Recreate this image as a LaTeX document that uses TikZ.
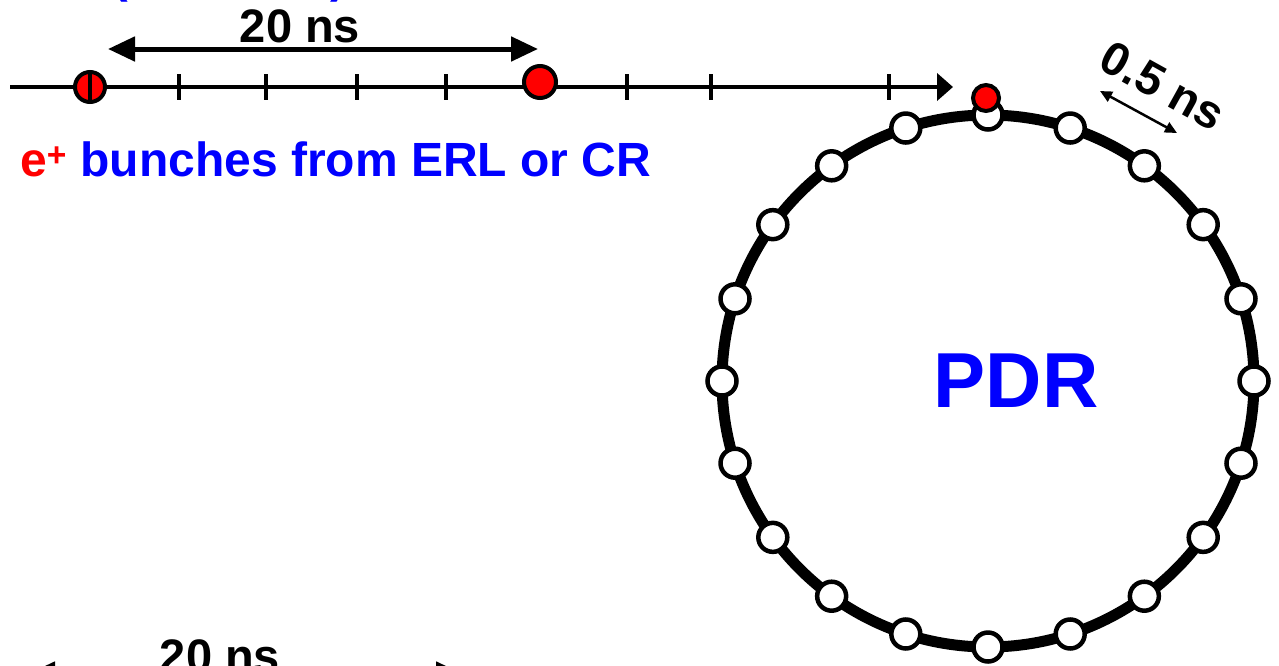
\documentclass[tikz,border=0pt]{standalone}
\usepackage{fontspec}
\setmainfont{Liberation Sans}
\usetikzlibrary{arrows.meta}
\definecolor{bunchred}{RGB}{255,0,0}
\definecolor{pdrblue}{RGB}{0,0,255}
\newcommand{\bigbf}{\fontsize{47}{52}\selectfont\bfseries}
\tikzset{
  bead/.style     = {circle, draw=black, fill=white, line width=4.5pt,
                     inner sep=0pt, minimum size=29pt},
  bunch/.style    = {circle, draw=black, fill=bunchred, line width=4pt,
                     inner sep=0pt, minimum size=30pt},
  ticmark/.style  = {line width=4pt},
  spacing/.style  = {line width=5pt,
                     {Triangle[length=27pt,width=24pt]}-{Triangle[length=27pt,width=24pt]}},
  txt/.style      = {inner sep=0pt, font=\bigbf}
}

\begin{document}
\begin{tikzpicture}[x=1pt, y=-1pt]
  \useasboundingbox (0,0) rectangle (1279,665);
  \clip (0,0) rectangle (1279,665);
  % blue title, only its lower edge shows
  \node[txt, text=pdrblue, anchor=base] (opar) at (120,-8) {(};
  \node[txt, text=pdrblue, anchor=base] (cpar) at (338,-8) {)};
  % bunch train from the linac
  \coordinate (tl0) at (10,87);
  \coordinate (tl1) at (953,87);
  \draw[line width=4pt, -{Triangle[length=16pt,width=27pt]}] (tl0) -- (tl1);
  \foreach \x in {179,266,357,446,627,711,889}
    \draw[ticmark] (\x,74) -- (\x,100);
  \node[bunch] (e1) at (90,87) {};
  \draw[line width=3.5pt] (e1.north) -- (e1.south);
  \node[bunch, minimum size=32pt] (e2) at (540,82) {};
  \coordinate (s0) at (108,49);
  \coordinate (s1) at (538,49);
  \draw[spacing] (s0) -- (s1);
  \node[txt, anchor=base] (sp1) at (300,42) {20 ns};
  \node[txt, anchor=base west, font=\fontsize{48}{52}\selectfont\bfseries] (src) at (20,176)
    {\textcolor{bunchred}{e\textsuperscript{+}} \textcolor{pdrblue}{bunches from ERL or CR}};
  % damping ring
  \node[circle, draw=black, line width=11pt, inner sep=0pt, minimum size=532pt] (ring) at (988,381) {};
  \foreach \k in {0,...,19}
    \path (ring.center) ++(90+18*\k:266) node[bead] (b\k) {};
  \node[bunch, minimum size=26pt] (e3) at (986,98) {};
  \node[inner sep=0pt, text=pdrblue, font=\fontsize{78}{80}\selectfont\bfseries] (pdr) at (1016,381) {PDR};
  \coordinate (h0) at (1100,91);
  \coordinate (h1) at (1177,133);
  \draw[line width=2.5pt, {Triangle[length=12pt,width=11pt]}-{Triangle[length=12pt,width=11pt]}] (h0) -- (h1);
  \node[txt, rotate=-29] (sp2) at (1163,86) {0.5 ns};
  % lower train, cut by the frame
  \coordinate (w0) at (28,674);
  \coordinate (w1) at (463,674);
  \draw[spacing] (w0) -- (w1);
  \node[txt, anchor=base] (sp3) at (220,672) {20 ns};
\end{tikzpicture}
\end{document}
